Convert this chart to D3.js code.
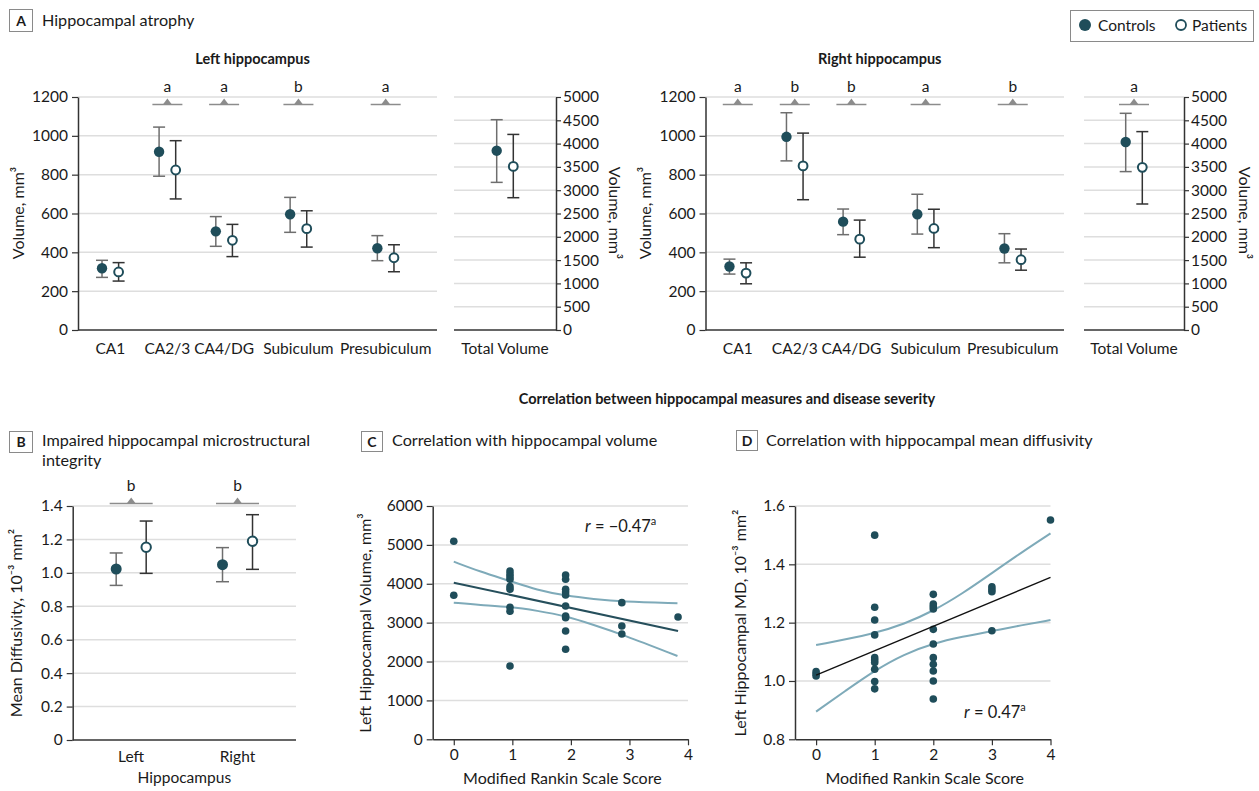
<!DOCTYPE html>
<html><head><meta charset="utf-8">
<script src="https://cdn.jsdelivr.net/npm/d3@7"></script>
<style>body{margin:0;background:#fff;} svg{font-family:Lato,"Noto Sans",sans-serif;}</style>
</head><body><svg id="c" width="1259" height="791"></svg>
<script>
// ---------- DATA ----------
const regions = ["CA1", "CA2/3", "CA4/DG", "Subiculum", "Presubiculum"];
const leftCtrlMean = [318, 918, 508, 596, 421];
const leftCtrlLow  = [271, 792, 431, 503, 357];
const leftCtrlHigh = [359, 1045, 584, 683, 486];
const leftPatMean  = [299, 824, 462, 522, 372];
const leftPatLow   = [252, 675, 378, 427, 300];
const leftPatHigh  = [347, 975, 544, 614, 439];
const leftSig      = ["", "a", "a", "b", "a"];

const rightCtrlMean = [327, 995, 558, 596, 420];
const rightCtrlLow  = [288, 871, 491, 494, 346];
const rightCtrlHigh = [365, 1119, 623, 699, 496];
const rightPatMean  = [293, 845, 468, 523, 362];
const rightPatLow   = [238, 671, 375, 424, 308];
const rightPatHigh  = [346, 1014, 566, 622, 417];
const rightSig      = ["a", "b", "b", "a", "b"];

const totalCategory = ["Total Volume"];
const leftTotalCtrl  = {mean: [3848], low: [3168], high: [4513]};
const leftTotalPat   = {mean: [3511], low: [2839], high: [4197]};
const leftTotalSig   = [""];
const rightTotalCtrl = {mean: [4034], low: [3399], high: [4650]};
const rightTotalPat  = {mean: [3491], low: [2704], high: [4257]};
const rightTotalSig  = ["a"];

const sides = ["Left", "Right"];
const mdCtrlMean = [1.023, 1.049];
const mdCtrlLow  = [0.925, 0.947];
const mdCtrlHigh = [1.119, 1.151];
const mdPatMean  = [1.153, 1.189];
const mdPatLow   = [0.997, 1.021];
const mdPatHigh  = [1.310, 1.348];
const mdSig      = ["b", "b"];

const volumeTicks = [0, 200, 400, 600, 800, 1000, 1200];
const totalTicks  = [0, 500, 1000, 1500, 2000, 2500, 3000, 3500, 4000, 4500, 5000];
const mdTicks     = [0, 0.2, 0.4, 0.6, 0.8, 1.0, 1.2, 1.4];
const cVolTicks   = [0, 1000, 2000, 3000, 4000, 5000, 6000];
const dMdTicks    = [0.8, 1.0, 1.2, 1.4, 1.6];
const mrsTicks    = [0, 1, 2, 3, 4];

// Panel C scatter
const cMrs = [0, 0, 0.96, 0.96, 0.96, 0.96, 0.96, 0.96, 0.96, 0.96, 0.96,
              1.91, 1.91, 1.91, 1.91, 1.91, 1.91, 1.91, 1.91, 1.91, 1.91,
              2.87, 2.87, 2.87, 3.83];
const cVol = [5093, 3704, 4329, 4252, 4183, 4115, 3926, 3858, 3395, 3292, 1885,
              4226, 4115, 3858, 3789, 3712, 3429, 3172, 3128, 2786, 2315,
              3514, 2914, 2708, 3146];
const cFitX = [0, 3.83];
const cFitY = [4028, 2786];
const cBandX = [0, 0.45, 0.96, 1.42, 1.91, 2.39, 2.87, 3.82];
const cUpper = [4568, 4311, 4072, 3840, 3693, 3608, 3539, 3498];
const cLower = [3514, 3454, 3411, 3308, 3172, 2940, 2701, 2143];

// Panel D scatter
const dMrs = [0, 0, 0,
              1, 1, 1, 1, 1, 1, 1, 1, 1, 1,
              2, 2, 2, 2, 2, 2, 2, 2, 2, 2, 2,
              3, 3, 3, 3, 4];
const dMd = [1.032, 1.024, 1.017,
             1.500, 1.253, 1.209, 1.158, 1.080, 1.072, 1.063, 1.040, 0.998, 0.973,
             1.297, 1.264, 1.255, 1.247, 1.177, 1.127, 1.080, 1.057, 1.034, 1.000, 0.938,
             1.323, 1.314, 1.306, 1.172, 1.552];
const dFitX = [0, 4];
const dFitY = [1.020, 1.355];
const dUpperX = [0, 1, 1.5, 2, 2.5, 3, 3.5, 4];
const dUpper  = [1.123, 1.162, 1.195, 1.240, 1.300, 1.370, 1.440, 1.506];
const dLowerX = [0, 0.5, 1, 1.5, 2, 2.5, 3, 3.5, 4];
const dLower  = [0.895, 0.966, 1.036, 1.092, 1.129, 1.152, 1.171, 1.191, 1.209];

// ---------- STYLE ----------
const DARK = "#1f4d5a", GRID = "#dedede", AX = "#333", LIGHT = "#7eaab9", SIGC = "#8c8c8c";
const CTRL_BAR = "#6e6e6e", PAT_BAR = "#333", TXT = "#1a1a1a";
const svg = d3.select("#c");

function styleAxis(g, fs) {
  g.attr("font-family", null).attr("font-size", fs || 15.5);
  g.select(".domain").attr("stroke", AX).attr("stroke-width", 1.5);
  g.selectAll(".tick line").attr("stroke", AX).attr("stroke-width", 1.2);
  g.selectAll(".tick text").attr("fill", TXT);
}
function grid(y, ticks, x0, x1, skip) {
  svg.append("g").selectAll("line").data(ticks.filter(t => t !== skip)).join("line")
    .attr("x1", x0).attr("x2", x1).attr("y1", d => y(d)).attr("y2", d => y(d))
    .attr("stroke", GRID).attr("stroke-width", 1.5);
}
function errDots(keys, xOf, y, mean, lo, hi, off, filled, r, cap, barColor) {
  const g = svg.append("g");
  keys.forEach((k, i) => {
    const x = xOf(k) + off;
    g.append("line").attr("x1", x).attr("x2", x).attr("y1", y(lo[i])).attr("y2", y(hi[i]))
      .attr("stroke", barColor).attr("stroke-width", 1.5);
    [lo[i], hi[i]].forEach(v => g.append("line").attr("x1", x - cap).attr("x2", x + cap)
      .attr("y1", y(v)).attr("y2", y(v)).attr("stroke", barColor).attr("stroke-width", 1.5));
    g.append("circle").attr("cx", x).attr("cy", y(mean[i])).attr("r", filled ? r : r - 0.8)
      .attr("fill", filled ? DARK : "#fff").attr("stroke", DARK).attr("stroke-width", filled ? 0 : 2);
  });
}
function sigMarks(keys, xOf, yLine, half, letters) {
  const g = svg.append("g");
  keys.forEach((k, i) => {
    if (!letters[i]) return;
    const cx = xOf(k);
    g.append("line").attr("x1", cx - half).attr("x2", cx + half).attr("y1", yLine).attr("y2", yLine)
      .attr("stroke", SIGC).attr("stroke-width", 1.5);
    g.append("path").attr("d", `M${cx - 4.5},${yLine} L${cx + 4.5},${yLine} L${cx},${yLine - 6}Z`).attr("fill", SIGC);
    g.append("text").attr("x", cx).attr("y", yLine - 13).attr("text-anchor", "middle")
      .attr("font-size", 15.5).attr("fill", TXT).text(letters[i]);
  });
}
function panelLabel(x, y, w, h, letter, lines, tx, ty, lh) {
  svg.append("rect").attr("x", x).attr("y", y).attr("width", w).attr("height", h)
    .attr("fill", "#fff").attr("stroke", "#8a8a8a").attr("stroke-width", 1);
  svg.append("text").attr("x", x + w / 2).attr("y", y + h / 2 + 5).attr("text-anchor", "middle")
    .attr("font-size", 14).attr("font-weight", "bold").attr("fill", TXT).text(letter);
  lines.forEach((l, i) => svg.append("text").attr("x", tx).attr("y", ty + i * lh)
    .attr("font-size", 16.2).attr("fill", TXT).text(l));
}
function yTitle(x, y, txt, rot) {
  svg.append("text").attr("transform", `translate(${x},${y}) rotate(${rot})`)
    .attr("text-anchor", "middle").attr("font-size", 16).attr("fill", TXT).text(txt);
}

// ---------- PANEL A ----------
const fracs = [0.09, 0.249, 0.407, 0.614, 0.857];
function volumePanel(ax, right, totL, totAx, yTitleX, totTitleX, subtitle, cm, cl, ch, pm, pl, ph, sig, tc, tp, tsig) {
  const y = d3.scaleLinear().domain([0, 1200]).range([330, 97]);
  const x = d3.scaleOrdinal().domain(regions).range(fracs.map(f => ax + f * (right - ax)));
  grid(y, volumeTicks, ax, right, 0);
  const ga = svg.append("g").attr("transform", `translate(${ax},0)`)
    .call(d3.axisLeft(y).tickValues(volumeTicks).tickSize(6).tickSizeOuter(0).tickPadding(4).tickFormat(d3.format("d")));
  styleAxis(ga);
  svg.append("line").attr("x1", ax).attr("x2", right).attr("y1", y(0)).attr("y2", y(0)).attr("stroke", AX).attr("stroke-width", 1.5);
  svg.append("g").selectAll("text").data(regions).join("text")
    .attr("x", d => x(d)).attr("y", 354).attr("text-anchor", "middle").attr("font-size", 15.5).attr("fill", TXT).text(d => d);
  sigMarks(regions, x, 104.5, 15, sig);
  errDots(regions, x, y, cm, cl, ch, -8.3, true, 5.2, 6, CTRL_BAR);
  errDots(regions, x, y, pm, pl, ph, 8.3, false, 5.2, 6, PAT_BAR);
  yTitle(yTitleX, 213, "Volume, mm³", -90);
  svg.append("text").attr("x", (ax + right) / 2 - 5).attr("y", 64).attr("text-anchor", "middle")
    .attr("font-size", 14.5).attr("font-weight", "bold").attr("fill", TXT).text(subtitle);

  // total volume sub-panel
  const yt = d3.scaleLinear().domain([0, 5000]).range([330, 97]);
  const xt = d3.scalePoint().domain(totalCategory).range([totL, totAx]).padding(0.5);
  grid(yt, totalTicks, totL, totAx, 0);
  svg.append("line").attr("x1", totL).attr("x2", totAx).attr("y1", yt(0)).attr("y2", yt(0)).attr("stroke", AX).attr("stroke-width", 1.5);
  const gt = svg.append("g").attr("transform", `translate(${totAx},0)`)
    .call(d3.axisRight(yt).tickValues(totalTicks).tickSize(5).tickSizeOuter(0).tickPadding(2).tickFormat(d3.format("d")));
  styleAxis(gt);
  svg.append("text").attr("x", xt(totalCategory[0])).attr("y", 354).attr("text-anchor", "middle")
    .attr("font-size", 15.5).attr("fill", TXT).text(totalCategory[0]);
  sigMarks(totalCategory, xt, 104.5, 15, tsig);
  errDots(totalCategory, xt, yt, tc.mean, tc.low, tc.high, -8.3, true, 5.2, 6, CTRL_BAR);
  errDots(totalCategory, xt, yt, tp.mean, tp.low, tp.high, 8.3, false, 5.2, 6, PAT_BAR);
  yTitle(totTitleX, 213, "Volume, mm³", 90);
}
volumePanel(78, 437, 454, 556, 24, 609, "Left hippocampus",
  leftCtrlMean, leftCtrlLow, leftCtrlHigh, leftPatMean, leftPatLow, leftPatHigh, leftSig,
  leftTotalCtrl, leftTotalPat, leftTotalSig);
volumePanel(705.5, 1064, 1084, 1184, 651, 1239, "Right hippocampus",
  rightCtrlMean, rightCtrlLow, rightCtrlHigh, rightPatMean, rightPatLow, rightPatHigh, rightSig,
  rightTotalCtrl, rightTotalPat, rightTotalSig);

panelLabel(9.5, 9.5, 23, 22, "A", ["Hippocampal atrophy"], 42, 26, 19);

// legend
svg.append("rect").attr("x", 1070.5).attr("y", 10.5).attr("width", 183).attr("height", 31)
  .attr("fill", "#fff").attr("stroke", "#8a8a8a");
svg.append("circle").attr("cx", 1085).attr("cy", 25).attr("r", 6).attr("fill", DARK);
svg.append("text").attr("x", 1098).attr("y", 30.5).attr("font-size", 15.5).attr("fill", TXT).text("Controls");
svg.append("circle").attr("cx", 1181).attr("cy", 25).attr("r", 5).attr("fill", "#fff").attr("stroke", DARK).attr("stroke-width", 1.8);
svg.append("text").attr("x", 1192).attr("y", 30.5).attr("font-size", 15.5).attr("fill", TXT).text("Patients");

// ---------- heading for C/D ----------
svg.append("text").attr("x", 727).attr("y", 404).attr("text-anchor", "middle").attr("font-size", 14.5)
  .attr("font-weight", "bold").attr("fill", TXT).text("Correlation between hippocampal measures and disease severity");

// ---------- PANEL B ----------
{
  const y = d3.scaleLinear().domain([0, 1.4]).range([740, 506]);
  const x = d3.scalePoint().domain(sides).range([72.7, 296]).padding(0.55);
  grid(y, mdTicks, 72.7, 296, 0);
  const ga = svg.append("g").attr("transform", "translate(72.7,0)")
    .call(d3.axisLeft(y).tickValues(mdTicks).tickSize(6).tickSizeOuter(0).tickPadding(4)
      .tickFormat(d => d === 0 ? "0" : d3.format(".1f")(d)));
  styleAxis(ga);
  svg.append("line").attr("x1", 72.7).attr("x2", 296).attr("y1", y(0)).attr("y2", y(0)).attr("stroke", AX).attr("stroke-width", 1.5);
  svg.append("g").selectAll("text").data(sides).join("text")
    .attr("x", d => x(d)).attr("y", 762).attr("text-anchor", "middle").attr("font-size", 15.5).attr("fill", TXT).text(d => d);
  svg.append("text").attr("x", (x("Left") + x("Right")) / 2).attr("y", 783).attr("text-anchor", "middle")
    .attr("font-size", 15.5).attr("fill", TXT).text("Hippocampus");
  sigMarks(sides, x, 503.5, 21.5, mdSig);
  errDots(sides, x, y, mdCtrlMean, mdCtrlLow, mdCtrlHigh, -15, true, 5.5, 6.5, CTRL_BAR);
  errDots(sides, x, y, mdPatMean, mdPatLow, mdPatHigh, 15, false, 5.5, 6.5, PAT_BAR);
  yTitle(22, 623, "Mean Diffusivity, 10⁻³ mm²", -90);
  panelLabel(9.5, 431.5, 23, 21, "B", ["Impaired hippocampal microstructural", "integrity"], 42, 446, 19.5);
}

// ---------- scatter panels ----------
function scatterPanel(ax, right, yDom, yTicks, yFmt, xs, ys, fitX, fitY, fitColor, fitW, upX, up, loX, lo, rText, rx, ry, yTitleX, yTitleTxt) {
  const x = d3.scaleLinear().domain([-0.36, 4]).range([ax, right]);
  const y = d3.scaleLinear().domain(yDom).range([739.3, 506]);
  grid(y, yTicks, ax, right, yDom[0]);
  const ga = svg.append("g").attr("transform", `translate(${ax},0)`)
    .call(d3.axisLeft(y).tickValues(yTicks).tickSize(6).tickSizeOuter(0).tickPadding(4).tickFormat(yFmt));
  styleAxis(ga);
  const gx = svg.append("g").attr("transform", `translate(0,${y(yDom[0])})`)
    .call(d3.axisBottom(x).tickValues(mrsTicks).tickSize(6).tickSizeOuter(0).tickPadding(4).tickFormat(d3.format("d")));
  styleAxis(gx);
  const line = d3.line().x(d => x(d[0])).y(d => y(d[1])).curve(d3.curveBasis);
  svg.append("path").attr("d", line(d3.zip(upX, up))).attr("fill", "none").attr("stroke", LIGHT).attr("stroke-width", 2);
  svg.append("path").attr("d", line(d3.zip(loX, lo))).attr("fill", "none").attr("stroke", LIGHT).attr("stroke-width", 2);
  svg.append("g").selectAll("circle").data(d3.zip(xs, ys)).join("circle")
    .attr("cx", d => x(d[0])).attr("cy", d => y(d[1])).attr("r", 3.8).attr("fill", DARK);
  svg.append("path").attr("d", d3.line().x(d => x(d[0])).y(d => y(d[1]))(d3.zip(fitX, fitY)))
    .attr("fill", "none").attr("stroke", fitColor).attr("stroke-width", fitW);
  const t = svg.append("text").attr("x", rx).attr("y", ry).attr("font-size", 16.5).attr("fill", TXT);
  t.append("tspan").attr("font-style", "italic").text("r");
  t.append("tspan").text(" = " + rText);
  t.append("tspan").attr("font-size", 11).attr("dy", -7).text("a");
  svg.append("text").attr("x", (ax + right) / 2 + 2).attr("y", 784).attr("text-anchor", "middle")
    .attr("font-size", 16).attr("fill", TXT).text("Modified Rankin Scale Score");
  yTitle(yTitleX, 623, yTitleTxt, -90);
}
scatterPanel(432.7, 688, [0, 6000], cVolTicks, d3.format("d"), cMrs, cVol, cFitX, cFitY, "#264f5c", 2,
  cBandX, cUpper, cBandX, cLower, "\u22120.47", 585, 532, 371, "Left Hippocampal Volume, mm³");
panelLabel(361.5, 431.5, 21, 20, "C", ["Correlation with hippocampal volume"], 392, 446, 19);

scatterPanel(795, 1050.5, [0.8, 1.6], dMdTicks, d3.format(".1f"), dMrs, dMd, dFitX, dFitY, "#111", 1.3,
  dUpperX, dUpper, dLowerX, dLower, "0.47", 964, 718, 746, "Left Hippocampal MD, 10⁻³ mm²");
panelLabel(736.5, 430.5, 21, 20, "D", ["Correlation with hippocampal mean diffusivity"], 766, 446, 19);
</script></body></html>
